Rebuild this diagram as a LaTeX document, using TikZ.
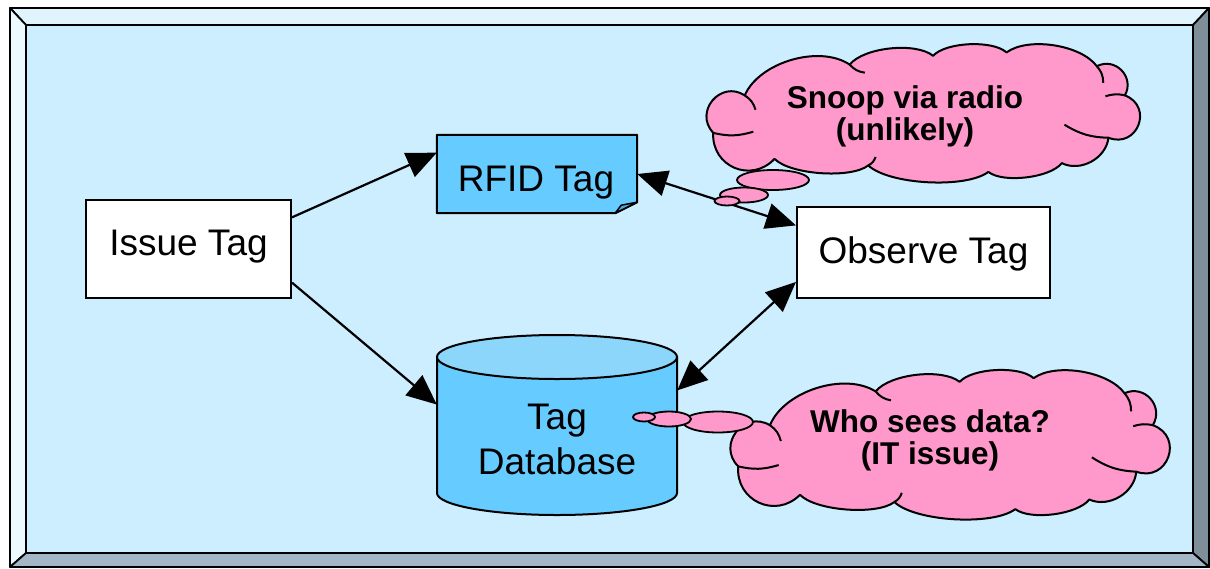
\documentclass[tikz,border=0pt]{standalone}
\usepackage{fontspec}
\setmainfont{Liberation Sans}
\usetikzlibrary{arrows.meta,calc}

\definecolor{panelbg}{HTML}{CCEEFF}
\definecolor{bevtop}{HTML}{DFF4FC}
\definecolor{bevleft}{HTML}{ECF9FE}
\definecolor{bevright}{HTML}{7F8F99}
\definecolor{bevbottom}{HTML}{A3B7C7}
\definecolor{tagblue}{HTML}{66CCFF}
\definecolor{tagfold}{HTML}{4FA8D8}
\definecolor{dbtop}{HTML}{8DD6FB}
\definecolor{thought}{HTML}{FF99CC}

% outline of a thought cloud in a 100 x 100 box centred on the origin
\newcommand\thoughtoutline{%
  (-48.8,-15.1) to[bend left=83, looseness=1.5] (-41.5,12.7)
  to[bend left=50, looseness=0.85] (-17.2,35.5)
  to[bend left=45, looseness=0.68] (2.1,42.0)
  to[bend left=45, looseness=0.65] (19.1,44.5)
  to[bend left=45, looseness=0.75] (40.0,34.3)
  to[bend left=73, looseness=1.32] (46.5,12.7)
  to[bend left=90, looseness=1.75] (42.7,-18.7)
  to[bend left=55, looseness=1.0] (31.9,-37.5)
  to[bend left=45, looseness=0.65] (14.9,-44.0)
  to[bend left=40, looseness=0.6] (-12.9,-39.2)
  to[bend left=42, looseness=0.6] (-34.6,-34.3)
  to[bend left=70, looseness=1.3] (-48.8,-15.1) -- cycle}
% short creases running into the cloud from its indentations
\newcommand\thoughtcreases{%
  (-48.8,-15.1) to[bend right=15] (-39.5,-14.2)
  (-41.5,12.7) to[bend left=20] (-39.0,2.0)
  (-17.2,35.5) to[bend right=20] (-13.7,29.5)
  (40.0,34.3) to[bend left=20] (41.5,22.0)
  (46.5,12.7) to[bend right=15] (42.0,12.0)
  (42.7,-18.7) to[bend left=15] (32.5,-9.0)
  (-12.9,-39.2) to[bend right=20] (-11.2,-33.0)}

\begin{document}
\begin{tikzpicture}[x=1pt,y=-1pt,
  >={Triangle[length=30pt,width=26pt]},
  frameline/.style={draw=black, line width=1.8pt, line join=round},
  box/.style={rectangle, draw=black, line width=2pt, fill=white, inner sep=0pt,
    font=\fontsize{37}{45}\selectfont},
  txtdrop/.style={text height=#1, text depth=0pt},
  link/.style={line width=2.2pt, black},
  cloudline/.style={draw=black, line width=2pt, line join=round},
  bubble/.style={draw=black, fill=thought, line width=1.8pt},
  cloudtext/.style={align=center, font=\bfseries\fontsize{31.5}{32}\selectfont}
]
\useasboundingbox (0,0) rectangle (1210,568);

% bevelled panel
\fill[white] (0,0) rectangle (1210,568);
\filldraw[frameline, fill=bevtop]    (10,8) -- (1209,8) -- (1193,25) -- (26,25) -- cycle;
\filldraw[frameline, fill=bevleft]   (10,8) -- (26,25) -- (26,553) -- (10,567) -- cycle;
\filldraw[frameline, fill=bevright]  (1209,8) -- (1209,567) -- (1193,553) -- (1193,25) -- cycle;
\filldraw[frameline, fill=bevbottom] (10,567) -- (1209,567) -- (1193,553) -- (26,553) -- cycle;
\filldraw[frameline, fill=panelbg]   (26,25) rectangle (1193,553);

% database cylinder
\filldraw[line width=2pt, fill=tagblue] (437,357) -- (437,493)
  arc[start angle=180, end angle=360, x radius=120pt, y radius=22pt] -- (677,357) -- cycle;
\filldraw[line width=2pt, fill=dbtop] (557,357) ellipse[x radius=120pt, y radius=22pt];
\node[rectangle, minimum width=240pt, minimum height=160pt, inner sep=0pt, align=center,
  font=\fontsize{37}{45}\selectfont] (db) at (557,439) {Tag\\Database};

% process boxes
\node[box, minimum width=205pt, minimum height=98pt, txtdrop=12pt] (issue) at (188.5,249) {Issue Tag};
\node[box, minimum width=253pt, minimum height=91pt, txtdrop=21pt] (observe) at (923.5,252.5) {Observe Tag};

% tag document with folded corner
\node[rectangle, minimum width=200pt, minimum height=78pt, inner sep=0pt] (rfid) at (537,174) {};
\filldraw[line width=2pt, fill=tagblue, line join=round]
  (rfid.north west) -- (rfid.north east) -- ($(rfid.south east)+(0,-11)$)
  -- ($(rfid.south east)+(-22,0)$) -- (rfid.south west) -- cycle;
\filldraw[line width=1.5pt, fill=tagfold, line join=round]
  ($(rfid.south east)+(-22,0)$) -- ($(rfid.south east)+(-16,-8)$)
  -- ($(rfid.south east)+(0,-11)$) -- cycle;
\node[font=\fontsize{37}{45}\selectfont, anchor=base] (rfidtext) at (536,191) {RFID Tag};

% connectors
\draw[link, ->] (issue.17) -- (rfid.168);
\draw[link, ->] (issue.342) -- (db.164);
\draw[link, <->] (rfid.east) -- (observe.168);
\draw[link, <->] (db.22) -- (observe.193.6);

% thought cloud: snooping on the radio link
\begin{scope}[shift={(924,112.5)}, x=4.32pt, y=1.35pt]
  \filldraw[cloudline, fill=thought] \thoughtoutline;
  \draw[cloudline] \thoughtcreases;
\end{scope}
\draw[bubble] (773,180) ellipse[x radius=36pt, y radius=10pt];
\draw[bubble] (744,195) ellipse[x radius=24pt, y radius=7.5pt];
\draw[bubble] (727,201) ellipse[x radius=12.5pt, y radius=4.5pt];
\node[cloudtext] (snooptext) at (905,116.4) {Snoop via radio\\(unlikely)};

% thought cloud: who can read the database
\begin{scope}[shift={(950.5,444)}, x=4.35pt, y=1.48pt]
  \filldraw[cloudline, fill=thought] \thoughtoutline;
  \draw[cloudline] \thoughtcreases;
\end{scope}
\draw[bubble] (718,422) ellipse[x radius=35pt, y radius=10.5pt];
\draw[bubble] (669,419) ellipse[x radius=22pt, y radius=7.5pt];
\draw[bubble] (644,417) ellipse[x radius=11pt, y radius=4.5pt];
\node[cloudtext] (whotext) at (930,440) {Who sees data?\\(IT issue)};
\end{tikzpicture}
\end{document}
